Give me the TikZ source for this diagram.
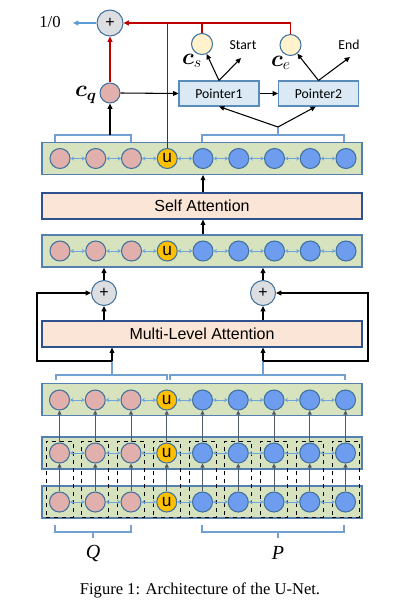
\documentclass[tikz,border=0pt]{standalone}
\usepackage{amsmath}
\usepackage{fontspec}
\usetikzlibrary{arrows.meta,calc}
\newfontfamily\arialf{Liberation Sans}
\newfontfamily\calf{Carlito}
\newfontfamily\timesf{Liberation Serif}
\definecolor{layerfill}{RGB}{215,227,190}
\definecolor{layerdraw}{RGB}{84,128,176}
\definecolor{attnfill}{RGB}{251,229,214}
\definecolor{attndraw}{RGB}{47,82,143}
\definecolor{circdraw}{RGB}{65,113,156}
\definecolor{qfill}{RGB}{226,176,172}
\definecolor{pfill}{RGB}{110,157,240}
\definecolor{ufill}{RGB}{255,192,0}
\definecolor{lnkcol}{RGB}{110,165,220}
\definecolor{upcol}{RGB}{80,90,105}
\definecolor{redc}{RGB}{192,0,0}
\definecolor{brkcol}{RGB}{115,160,210}
\definecolor{plusfill}{RGB}{220,222,226}
\definecolor{ptrfill}{RGB}{218,233,243}
\definecolor{ptrdraw}{RGB}{90,140,185}
\definecolor{yfill}{RGB}{255,242,204}
\definecolor{outblue}{RGB}{91,155,213}
\begin{document}
\begin{tikzpicture}[x=0.75pt,y=-0.75pt,
  layer/.style={draw=layerdraw, fill=layerfill, line width=1pt, minimum width=240pt, minimum height=23.6pt, inner sep=0},
  attn/.style={draw=attndraw, fill=attnfill, line width=0.9pt, minimum width=240pt, minimum height=19.5pt, inner sep=0, font=\arialf\fontsize{12}{14}\selectfont},
  tok/.style={circle, draw=circdraw, line width=0.8pt, minimum size=15pt, inner sep=0},
  qc/.style={tok, fill=qfill},
  pc/.style={tok, fill=pfill},
  uc/.style={tok, fill=ufill, font=\arialf\fontsize{13}{13}\selectfont},
  yc/.style={tok, fill=yfill, minimum size=15.75pt},
  lnk/.style={draw=lnkcol, line width=0.7pt, {Stealth[length=2.6pt,width=3.2pt]}-{Stealth[length=2.6pt,width=3.2pt]}},
  arr/.style={draw=black, line width=0.8pt, -{Triangle[length=4pt,width=3.6pt]}},
  uparr/.style={draw=upcol, line width=0.7pt, -{Triangle[length=3pt,width=3pt]}},
  redl/.style={draw=redc, line width=1pt},
  redarr/.style={redl, -{Triangle[length=4pt,width=3.6pt]}},
  brk/.style={draw=brkcol, line width=0.8pt},
  plusn/.style={circle, draw=circdraw, fill=plusfill, line width=0.8pt, minimum size=18.75pt, inner sep=0, font=\arialf\fontsize{12}{12}\selectfont},
  ptr/.style={draw=ptrdraw, fill=ptrfill, line width=0.8pt, minimum width=60pt, minimum height=18.75pt, inner sep=0, font=\calf\fontsize{10.3}{12}\selectfont},
  dbox/.style={draw=black, dashed, line width=0.7pt, minimum width=20.25pt, minimum height=57pt, inner sep=0},
  lbl/.style={inner sep=0}
]
\useasboundingbox (0,0) rectangle (411,607);

% layer rectangles
\node[layer] (LA) at (202,158.5) {};
\node[layer, minimum height=24pt] (LB) at (202,251) {};
\node[layer] (LC) at (202,399.5) {};
\node[layer, minimum height=24pt] (LD) at (202,453) {};
\node[layer, minimum height=24pt] (LE) at (202,502) {};

% dashed column boxes
\foreach \i in {0,...,8} {
  \pgfmathsetmacro\xx{59.5+35.75*\i}
  \node[dbox] (DB\i) at (\xx,479) {};
}

% attention blocks
\node[attn] (sa) at (202,206) {Self Attention};
\node[attn] (mla) at (202,334) {Multi-Level Attention};

% token circles
\foreach \L/\Y/\X in {A/158.5/60,B/251/60,C/400/59.5,D/453/59.5,E/502/59.5} {
  \foreach \i/\s/\t in {0/qc/{},1/qc/{},2/qc/{},3/uc/u,4/pc/{},5/pc/{},6/pc/{},7/pc/{},8/pc/{}} {
    \pgfmathsetmacro\xx{\X+35.75*\i}
    \node[\s] (\L\i) at (\xx,\Y) {\t};
  }
  \foreach \i [evaluate=\i as \j using int(\i+1)] in {0,...,7} {
    \draw[lnk] (\L\i.east) -- (\L\j.west);
  }
}

% vertical arrows in the bottom stack
\foreach \i in {0,...,8} {
  \draw[uparr] (E\i.north) -- (D\i.south);
  \draw[uparr] (D\i.north) -- (C\i.south);
}

% brackets above layer C
\draw[brk] (56,380) -- (56,375) -- (167,375) -- (167,380);
\draw[brk] (170,380) -- (170,375) -- (345,375) -- (345,380);
\coordinate (mbL) at (112,375);
\coordinate (mbR) at (263,375);
\coordinate (fbL) at (112,361);
\coordinate (fbR) at (263,361);
\draw[brk] (mbL) -- (fbL);
\draw[brk] (mbR) -- (fbR);
\draw[arr] (fbL) -- (fbL |- mla.south);
\draw[arr] (fbR) -- (fbR |- mla.south);

% plus nodes
\node[plusn] (plusL) at (104,293) {+};
\node[plusn] (plusR) at (263,293) {+};
\draw[arr] (fbL) -- (37,361) |- (plusL.west);
\draw[arr] (fbR) -- (368,361) |- (plusR.east);
\draw[arr] (plusL |- mla.north) -- (plusL.south);
\draw[arr] (plusR |- mla.north) -- (plusR.south);
\draw[arr] (plusL.north) -- (plusL |- LB.south);
\draw[arr] (plusR.north) -- (plusR |- LB.south);

% self attention arrows
\draw[arr] (B4.north |- LB.north) -- (B4 |- sa.south);
\draw[arr] (B4 |- sa.north) -- (B4 |- LA.south);

% brackets above layer A
\draw[brk] (55,142) -- (55,135) -- (131,135) -- (131,142);
\draw[brk] (202,142) -- (202,135) -- (344,135) -- (344,142);
\coordinate (tbL) at (110,135);
\coordinate (tbR) at (278,135);
\coordinate (pb) at (278,127);

% top part
\node[tok, fill=qfill, minimum size=15pt] (cq) at (110,93) {};
\node[lbl] (cqlab) at (86,95) {\fontsize{17}{17}\selectfont$\boldsymbol{c}_{\boldsymbol{q}}$};
\node[plusn, minimum size=19.5pt] (plusT) at (110,23) {+};
\node[lbl] (onezero) at (50,22) {\timesf\fontsize{12.5}{13}\selectfont 1/0};
\coordinate (ozTip) at (73,23);
\draw[draw=outblue, line width=0.9pt, -{Triangle[length=4pt,width=3.6pt]}] (plusT.west) -- (ozTip);

\node[ptr] (p1) at (219,93.5) {Pointer1};
\node[ptr] (p2) at (318.5,93.5) {Pointer2};
\node[yc] (cs) at (202,44) {};
\node[yc] (ce) at (290.5,45) {};
\node[lbl] (cslab) at (192,61) {\fontsize{17}{17}\selectfont$\boldsymbol{c}_{s}$};
\node[lbl] (celab) at (281,63) {\fontsize{17}{17}\selectfont$\boldsymbol{c}_{e}$};
\node[lbl] (start) at (243,45) {\calf\fontsize{10.3}{12}\selectfont Start};
\node[lbl] (endl) at (349,45) {\calf\fontsize{10.3}{12}\selectfont End};
\coordinate (sTip) at (241,58);
\coordinate (eTip) at (350,57);

% red connections
\draw[redl] (A3.north) -- (A3.north |- plusT.east);
\draw[redl] (cs.north) -- (cs.north |- plusT.east);
\draw[redarr] (ce.north) |- (plusT.east);
\draw[redarr] (cq.north) -- (plusT.south);

% black arrows at top
\draw[arr] (tbL) -- (cq.south);
\draw[brk] (tbR) -- (pb);
\draw[arr] (pb) -- (p1.south);
\draw[arr] (pb) -- ([xshift=-2pt]p2.south);
\draw[arr] (cq.east) -- (p1.west);
\draw[arr] (p1.east) -- (p2.west);
\draw[arr] (p1.north) -- (cs);
\draw[arr] (p1.north) -- (sTip);
\draw[arr] (p2.north) -- (ce);
\draw[arr] (p2.north) -- (eTip);

% bottom brackets and labels
\draw[brk] (55,525) -- (55,532) -- (131,532) -- (131,525);
\draw[brk] (93,532) -- (93,538);
\draw[brk] (202,525) -- (202,532) -- (344,532) -- (344,525);
\draw[brk] (278,532) -- (278,538);
\node[lbl] (Q) at (93,553) {\timesf\itshape\fontsize{15}{15}\selectfont Q};
\node[lbl] (P) at (278,553) {\timesf\itshape\fontsize{15}{15}\selectfont P};

\node[lbl] (cap) at (200,590) {\timesf\fontsize{12.4}{14}\selectfont Figure 1: Architecture of the U-Net.};
\end{tikzpicture}
\end{document}
